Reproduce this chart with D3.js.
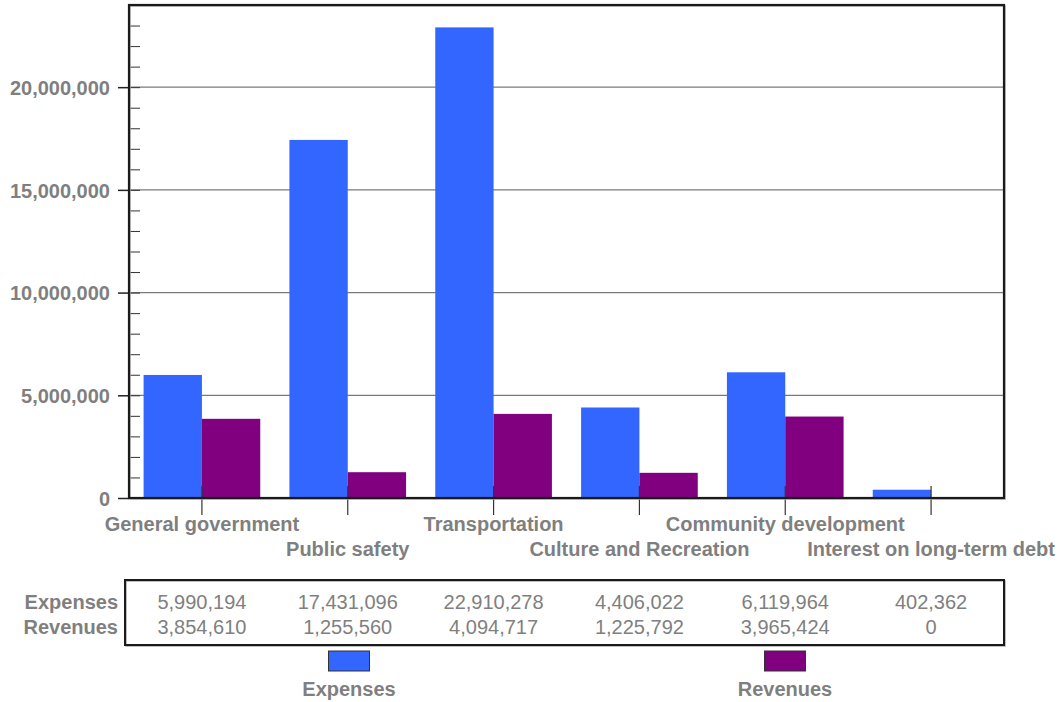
<!DOCTYPE html>
<html><head><meta charset="utf-8">
<script src="https://cdn.jsdelivr.net/npm/d3@7"></script>
<style>body{margin:0;background:#fff} text{font-family:"Liberation Sans",Arial,sans-serif}</style>
</head><body><svg id="c" width="1062" height="702"></svg>
<script>
const categories = ["General government","Public safety","Transportation","Culture and Recreation","Community development","Interest on long-term debt"];
const seriesNames = ["Expenses","Revenues"];
const expenses = [5990194,17431096,22910278,4406022,6119964,402362];
const revenues = [3854610,1255560,4094717,1225792,3965424,0];
const yTicks = [0,5000000,10000000,15000000,20000000];
const colors = ["#3366FF","#800080"];

const svg = d3.select("#c");
const L=129,R=1004,T=5,B=498;
const textColor="#7f7f7f";
const fmt=d3.format(",");
const series=[expenses,revenues];

const x=d3.scaleBand().domain(categories).range([L,R]).paddingInner(0.2).paddingOuter(0.1);
const x1=d3.scaleBand().domain(seriesNames).range([0,x.bandwidth()]);
const y=d3.scaleLinear().domain([0,24000000]).range([B,T]);
const center=c=>x(c)+x.bandwidth()/2;

// gridlines
svg.append("g").selectAll("line").data(yTicks.filter(d=>d>0)).join("line")
  .attr("x1",L).attr("x2",R).attr("y1",d=>y(d)).attr("y2",d=>y(d))
  .attr("stroke","#7a7a7a").attr("stroke-width",1.2);

// bars
seriesNames.forEach((s,si)=>{
  svg.append("g").selectAll("rect").data(categories).join("rect")
    .attr("x",c=>x(c)+x1(s)).attr("width",x1.bandwidth())
    .attr("y",(c,i)=>y(series[si][i])).attr("height",(c,i)=>B-y(series[si][i]))
    .attr("fill",colors[si]);
});

// minor ticks
const minor=d3.axisRight(y).tickValues(d3.range(0,24000001,1000000)).tickSize(11).tickFormat("");
const gm=svg.append("g").attr("transform",`translate(${L},0)`).call(minor);
gm.select(".domain").remove();
gm.selectAll("line").attr("stroke","#333");

// y axis
const ya=d3.axisLeft(y).tickValues(yTicks).tickSize(11).tickPadding(8).tickFormat(fmt);
const gy=svg.append("g").attr("transform",`translate(${L},0)`).call(ya);
gy.select(".domain").remove();
gy.selectAll("line").attr("stroke","#222").attr("stroke-width",1.5);
gy.selectAll("text").attr("fill",textColor).attr("font-size",20).attr("font-weight","bold")
  .attr("font-family","'Liberation Sans',Arial,sans-serif").attr("dy","0.36em");

// x axis
const xa=d3.axisBottom(x).tickSize(29).tickFormat("");
const gx=svg.append("g").attr("transform",`translate(0,${B-12})`).call(xa);
gx.select(".domain").remove();
gx.selectAll("line").attr("stroke","#333").attr("stroke-width",1.2);

svg.append("g").selectAll("text").data(categories).join("text")
  .attr("x",c=>center(c)).attr("y",(c,i)=>i%2===0?531:556)
  .attr("text-anchor","middle").attr("font-size",20).attr("font-weight","bold")
  .attr("fill",textColor).text(c=>c);

// frame
svg.append("rect").attr("x",L+1).attr("y",T+1).attr("width",R-L).attr("height",B-T)
  .attr("fill","none").attr("stroke","#aaa").attr("stroke-width",1.5);
svg.append("rect").attr("x",L).attr("y",T).attr("width",R-L).attr("height",B-T)
  .attr("fill","none").attr("stroke","#1a1a1a").attr("stroke-width",2.2);

// data table
svg.append("rect").attr("x",126).attr("y",581).attr("width",R-125).attr("height",65)
  .attr("fill","none").attr("stroke","#aaa").attr("stroke-width",1.5);
svg.append("rect").attr("x",125).attr("y",580).attr("width",R-125).attr("height",65)
  .attr("fill","none").attr("stroke","#1a1a1a").attr("stroke-width",2);
const rowY=[609,634];
seriesNames.forEach((s,si)=>{
  svg.append("text").attr("x",118).attr("y",rowY[si]).attr("text-anchor","end")
    .attr("font-size",20).attr("font-weight","bold").attr("fill",textColor).text(s);
  svg.append("g").selectAll("text").data(categories).join("text")
    .attr("x",c=>center(c)).attr("y",rowY[si]).attr("text-anchor","middle")
    .attr("font-size",20).attr("fill",textColor).text((c,i)=>fmt(series[si][i]));
});

// legend
const lx=d3.scaleBand().domain(seriesNames).range([131,1003]);
const lg=svg.append("g").selectAll("g").data(seriesNames).join("g")
  .attr("transform",s=>`translate(${lx(s)+lx.bandwidth()/2},0)`);
lg.append("rect").attr("x",-20.5).attr("y",651).attr("width",41).attr("height",20)
  .attr("fill",(s,i)=>colors[i]).attr("stroke","#333").attr("stroke-width",1);
lg.append("text").attr("y",696).attr("text-anchor","middle").attr("font-size",20)
  .attr("font-weight","bold").attr("fill",textColor).text(s=>s);
</script></body></html>
